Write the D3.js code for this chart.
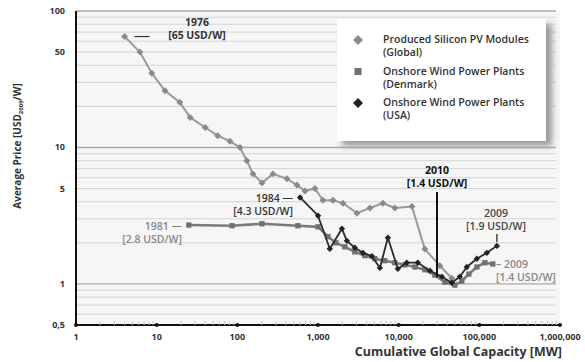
<!DOCTYPE html>
<html>
<head>
<meta charset="utf-8">
<script src="https://cdn.jsdelivr.net/npm/d3@7"></script>
<style>
  body { margin: 0; background: #fff; }
  svg { display: block; font-family: "Open Sans", sans-serif; }
</style>
</head>
<body>
<svg width="585" height="362"></svg>
<script>
// data: [cumulative capacity MW, price USD2009/W]
var pvGlobal = [
  [4, 65], [6.2, 50], [8.7, 35], [12.7, 26], [19.4, 21.4], [26, 16.6], [40, 14],
  [57, 12.2], [81, 11.1], [108, 10], [131, 8], [156, 6.4], [202, 5.5], [276, 6.4],
  [412, 5.9], [548, 5.3], [690, 4.8], [916, 5], [1150, 4.1], [1530, 4.1], [2040, 3.9],
  [3040, 3.3], [4400, 3.6], [6370, 3.9], [8970, 3.6], [14600, 3.7], [21100, 1.8],
  [32400, 1.36], [45600, 1.1]
];
var windDenmark = [
  [25, 2.7], [86, 2.67], [202, 2.76], [564, 2.67], [1000, 2.62], [1330, 2.22],
  [1670, 2.0], [2150, 1.87], [2860, 1.72], [3810, 1.61], [5070, 1.53], [6740, 1.48],
  [8970, 1.43], [11900, 1.38], [15900, 1.33], [21100, 1.27], [28100, 1.16],
  [37400, 1.03], [49700, 0.98], [60700, 1.05], [74100, 1.18], [93100, 1.33],
  [117000, 1.43], [147000, 1.4]
];
var windUSA = [
  [600, 4.3], [1000, 3.16], [1400, 1.81], [1980, 2.54], [2280, 2.07], [2860, 1.84],
  [3600, 1.69], [4650, 1.6], [5850, 1.31], [7350, 2.18], [9770, 1.29], [12600, 1.43],
  [17300, 1.43], [24400, 1.25], [34300, 1.13], [45600, 1.02], [57300, 1.13],
  [70000, 1.33], [93100, 1.53], [124000, 1.69], [165000, 1.9]
];
var xTicks = [1, 10, 100, 1000, 10000, 100000, 1000000];
var xTickLabels = ["1", "10", "100", "1,000", "10,000", "100,000", "1,000,000"];
var yTicks = [0.5, 1, 5, 10, 50, 100];
var yTickLabels = ["0,5", "1", "5", "10", "50", "100"];
var legendLabels = [
  ["Produced Silicon PV Modules", "(Global)"],
  ["Onshore Wind Power Plants", "(Denmark)"],
  ["Onshore Wind Power Plants", "(USA)"]
];

var svg = d3.select("svg");

var x = d3.scaleLog().domain([1, 1e6]).range([76, 560]);
var y = d3.scaleLog().domain([0.5, 100]).range([325, 11]);

// faint plot background
svg.append("rect")
  .attr("x", 76).attr("y", 11)
  .attr("width", 484).attr("height", 314)
  .attr("fill", "#f6f6f6");

// horizontal grid: minor lines 1..9 per decade, decades darker
var gridVals = [];
[0.1, 1, 10].forEach(function(d) {
  for (var k = 1; k <= 9; k++) {
    var v = d * k;
    if (v >= 0.5 && v <= 100) gridVals.push(v);
  }
});
gridVals.push(100);

svg.append("g").selectAll("line")
  .data(gridVals)
  .enter().append("line")
  .attr("x1", 76).attr("x2", 556)
  .attr("y1", function(d) { return y(d); })
  .attr("y2", function(d) { return y(d); })
  .attr("stroke", function(d) {
    return [1, 10, 100].indexOf(d) >= 0 ? "#a8a8a8" : "#d4d4d4";
  })
  .attr("stroke-width", function(d) {
    return [1, 10, 100].indexOf(d) >= 0 ? 1.4 : 1;
  });

// axes
svg.append("line")
  .attr("x1", x(1)).attr("x2", x(1))
  .attr("y1", y(100)).attr("y2", y(0.5))
  .attr("stroke", "#111").attr("stroke-width", 2);
svg.append("line")
  .attr("x1", x(1)).attr("x2", x(1e6))
  .attr("y1", y(0.5)).attr("y2", y(0.5))
  .attr("stroke", "#111").attr("stroke-width", 2);

// small minor ticks inside bottom axis
var minorX = [];
for (var dec = 1; dec < 1e6; dec *= 10) {
  for (var k = 2; k <= 9; k++) minorX.push(dec * k);
}
svg.append("g").selectAll("line")
  .data(minorX)
  .enter().append("line")
  .attr("x1", function(d) { return x(d); })
  .attr("x2", function(d) { return x(d); })
  .attr("y1", y(0.5) - 4).attr("y2", y(0.5))
  .attr("stroke", "#c8c8c8");

svg.append("g").selectAll("circle")
  .data(xTicks)
  .enter().append("circle")
  .attr("cx", function(d) { return x(d); })
  .attr("cy", y(0.5))
  .attr("r", 2)
  .attr("fill", "#111");

svg.append("g").selectAll("text")
  .data(xTicks)
  .enter().append("text")
  .attr("x", function(d) { return x(d); })
  .attr("y", 340)
  .attr("text-anchor", "middle")
  .attr("font-size", 9)
  .attr("font-weight", 700)
  .attr("fill", "#333")
  .text(function(d, i) { return xTickLabels[i]; });

svg.append("g").selectAll("text")
  .data(yTicks)
  .enter().append("text")
  .attr("x", 65)
  .attr("y", function(d) { return y(d) + 3; })
  .attr("text-anchor", "end")
  .attr("font-size", 9)
  .attr("font-weight", 700)
  .attr("fill", "#333")
  .text(function(d, i) { return yTickLabels[i]; });

// axis titles
svg.append("text")
  .attr("x", 562).attr("y", 356)
  .attr("text-anchor", "end")
  .attr("font-size", 12.5)
  .attr("font-weight", 700)
  .attr("fill", "#333")
  .text("Cumulative Global Capacity [MW]");

var yt = svg.append("text")
  .attr("transform", "translate(21,146) rotate(-90)")
  .attr("text-anchor", "middle")
  .attr("font-size", 10)
  .attr("font-weight", 700)
  .attr("fill", "#333");
yt.append("tspan").text("Average Price [USD");
yt.append("tspan").attr("font-size", 6).attr("dy", 2).text("2009");
yt.append("tspan").attr("dy", -2).text("/W]");

// series
var line = d3.line()
  .x(function(d) { return x(d[0]); })
  .y(function(d) { return y(d[1]); });

var series = [
  { data: pvGlobal, color: "#9a9a9a", mark: "#8a8a8a", width: 2, shape: "diamond", size: 24 },
  { data: windDenmark, color: "#7a7a7a", mark: "#707070", width: 2.6, shape: "square", size: 28 },
  { data: windUSA, color: "#2a2a2a", mark: "#222", width: 1.8, shape: "diamond", size: 20 }
];

function symbolPath(s, size) {
  return d3.symbol().type(d3.symbolSquare).size(size)();
}

series.forEach(function(s) {
  svg.append("path")
    .datum(s.data)
    .attr("fill", "none")
    .attr("stroke", s.color)
    .attr("stroke-width", s.width)
    .attr("stroke-linejoin", "round")
    .attr("d", line);

  svg.append("g").selectAll("path")
    .data(s.data)
    .enter().append("path")
    .attr("d", symbolPath(s.shape, s.size))
    .attr("transform", function(d) {
      return "translate(" + x(d[0]) + "," + y(d[1]) + ")" +
        (s.shape === "diamond" ? " rotate(45)" : "");
    })
    .attr("fill", s.mark);
});

// annotations
function note(lines, xp, yp, anchor, color, weight) {
  var t = svg.append("text")
    .attr("text-anchor", anchor)
    .attr("font-size", 10.5)
    .attr("font-weight", weight)
    .attr("fill", color);
  lines.forEach(function(l, i) {
    t.append("tspan").attr("x", xp).attr("y", yp + i * 12.5).text(l);
  });
}

svg.append("line")
  .attr("x1", x(4) + 10).attr("x2", x(4) + 25)
  .attr("y1", y(65)).attr("y2", y(65))
  .attr("stroke", "#333").attr("stroke-width", 1.2);
note(["1976", "[65 USD/W]"], 197, 26, "middle", "#333", 700);

note(["1984 \u2014", "[4.3 USD/W]"], 293, 202, "end", "#333", 600);
note(["1981 \u2014", "[2.8 USD/W]"], 182, 230, "end", "#888", 600);

note(["2010", "[1.4 USD/W]"], 437, 174, "middle", "#111", 700);
svg.append("line")
  .attr("x1", 437).attr("x2", 437)
  .attr("y1", 192).attr("y2", y(1.12))
  .attr("stroke", "#111").attr("stroke-width", 2);

note(["2009", "[1.9 USD/W]"], 496, 217, "middle", "#444", 600);
svg.append("line")
  .attr("x1", x(165000)).attr("x2", x(165000))
  .attr("y1", 234).attr("y2", y(1.9) - 4)
  .attr("stroke", "#444").attr("stroke-width", 1.5);

note(["\u2013 2009", "[1.4 USD/W]"], 496, 268, "start", "#888", 600);

// legend with shadow
var defs = svg.append("defs");
defs.append("filter").attr("id", "blur")
  .attr("x", "-20%").attr("y", "-20%").attr("width", "140%").attr("height", "140%")
  .append("feGaussianBlur").attr("stdDeviation", 3);

svg.append("rect")
  .attr("x", 342).attr("y", 24)
  .attr("width", 210).attr("height", 122)
  .attr("fill", "#999")
  .attr("filter", "url(#blur)");
svg.append("rect")
  .attr("x", 337).attr("y", 19)
  .attr("width", 209).attr("height", 122)
  .attr("fill", "#fff");

var lg = svg.append("g").selectAll("g")
  .data(series)
  .enter().append("g")
  .attr("transform", function(d, i) { return "translate(358," + (40 + i * 31.5) + ")"; });

lg.append("path")
  .attr("d", function(d) { return symbolPath(d.shape, 50); })
  .attr("transform", function(d) { return d.shape === "diamond" ? "rotate(45)" : null; })
  .attr("fill", function(d) { return d.mark; });

lg.append("text")
  .attr("x", 25)
  .attr("font-size", 10.5)
  .attr("font-weight", 600)
  .attr("fill", "#333")
  .each(function(d, i) {
    var t = d3.select(this);
    legendLabels[i].forEach(function(l, j) {
      t.append("tspan").attr("x", 25).attr("y", 3 + j * 13).text(l);
    });
  });
</script>
</body>
</html>
